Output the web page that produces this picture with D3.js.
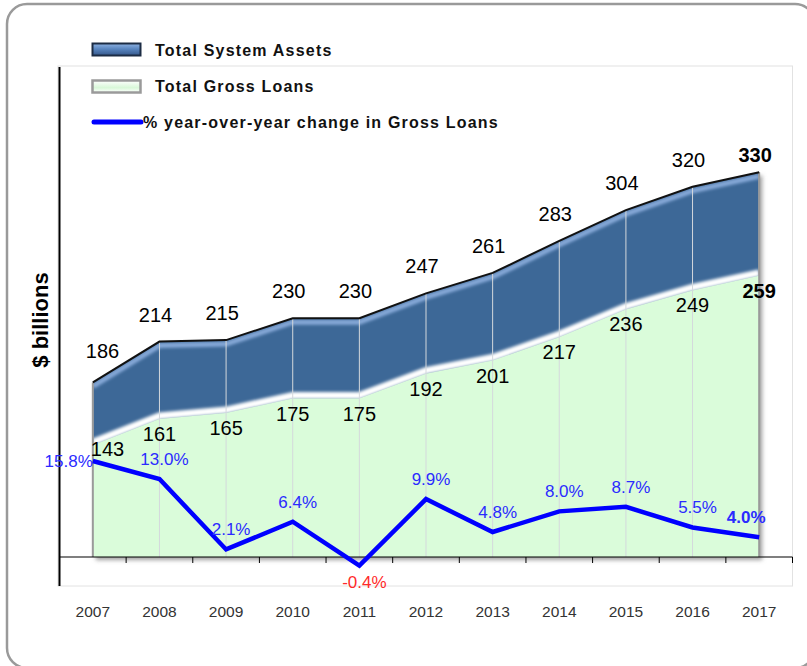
<!DOCTYPE html>
<html>
<head>
<meta charset="utf-8">
<script src="https://cdn.jsdelivr.net/npm/d3@7"></script>
<style>
  body { margin: 0; background: #fff; }
  text { font-family: "Liberation Sans", Arial, sans-serif; }
</style>
</head>
<body>
<div id="chart"></div>
<script>
// values
var years = ["2007", "2008", "2009", "2010", "2011", "2012", "2013", "2014", "2015", "2016", "2017"];
var assets = [186, 214, 215, 230, 230, 247, 261, 283, 304, 320, 330];
var loans = [143, 161, 165, 175, 175, 192, 201, 217, 236, 249, 259];
var loanGrowth = [15.8, 13.0, 2.1, 6.4, -0.4, 9.9, 4.8, 8.0, 8.7, 5.5, 4.0];
var legendLabels = ["Total System Assets", "Total Gross Loans", "% year-over-year change in Gross Loans"];

var W = 807, H = 666;
var plot = { left: 59.5, right: 792.5, top: 66, bottom: 586 },
	axisY = 557;

var svg = d3.select("#chart").append("svg")
	.attr("width", W)
	.attr("height", H);

var defs = svg.append("defs");

var shadow = defs.append("filter").attr("id", "shadow")
	.attr("x", "-10%").attr("y", "-10%").attr("width", "130%").attr("height", "130%");
shadow.append("feDropShadow")
	.attr("dx", 3).attr("dy", 3).attr("stdDeviation", 2)
	.attr("flood-color", "#777").attr("flood-opacity", 0.7);

defs.append("filter").attr("id", "blur")
	.append("feGaussianBlur").attr("stdDeviation", 1.6);

var gBlue = defs.append("linearGradient").attr("id", "gBlue")
	.attr("x1", 0).attr("y1", 0).attr("x2", 0).attr("y2", 1);
gBlue.append("stop").attr("offset", "0%").attr("stop-color", "#8fb3e3");
gBlue.append("stop").attr("offset", "45%").attr("stop-color", "#5a86c0");
gBlue.append("stop").attr("offset", "100%").attr("stop-color", "#34578a");

var gGreen = defs.append("linearGradient").attr("id", "gGreen")
	.attr("x1", 0).attr("y1", 0).attr("x2", 0).attr("y2", 1);
gGreen.append("stop").attr("offset", "0%").attr("stop-color", "#ffffff");
gGreen.append("stop").attr("offset", "60%").attr("stop-color", "#d8f8d8");
gGreen.append("stop").attr("offset", "100%").attr("stop-color", "#ffffff");

// outer rounded frame
svg.append("rect")
	.attr("x", 7).attr("y", 4)
	.attr("width", 808).attr("height", 664)
	.attr("rx", 20)
	.attr("fill", "none")
	.attr("stroke", "#9a9a9a")
	.attr("stroke-width", 2.5);

// plot area box
svg.append("rect")
	.attr("x", plot.left - 1.5).attr("y", plot.top)
	.attr("width", plot.right - plot.left + 1.5).attr("height", plot.bottom - plot.top)
	.attr("fill", "none")
	.attr("stroke", "#e2e2e2");

var x = d3.scaleBand()
	.domain(years)
	.range([plot.left, plot.right]);

var y = d3.scaleLinear()
	.domain([0, 400])
	.range([654, 70]);

var yPct = d3.scaleLinear()
	.domain([0, 15.8])
	.range([563, 461]);

function cx(d, i) { return x(years[i]) + x.bandwidth() / 2; }

var areaAssets = d3.area()
	.x(cx)
	.y0(axisY)
	.y1(function(d) { return y(d); });

var areaLoans = d3.area()
	.x(cx)
	.y0(axisY)
	.y1(function(d) { return y(d); });

var lineOf = function(scale, dy) {
	return d3.line()
		.x(cx)
		.y(function(d) { return scale(d) + dy; });
};

defs.append("clipPath").attr("id", "clipAssets")
	.append("path").attr("d", areaAssets(assets));

// areas
var areas = svg.append("g").attr("class", "areas");

areas.append("path")
	.attr("d", areaAssets(assets))
	.attr("fill", "#3d6797")
	.attr("filter", "url(#shadow)");

var inner = areas.append("g").attr("clip-path", "url(#clipAssets)");

// light band just under the top edge of the assets
inner.append("path")
	.attr("d", lineOf(y, 4)(assets))
	.attr("fill", "none")
	.attr("stroke", "#86a9d8")
	.attr("stroke-width", 5)
	.attr("filter", "url(#blur)");

// white glow above the loans
inner.append("path")
	.attr("d", lineOf(y, -3)(loans))
	.attr("fill", "none")
	.attr("stroke", "#ffffff")
	.attr("stroke-width", 7)
	.attr("filter", "url(#blur)");

inner.append("path")
	.attr("d", areaLoans(loans))
	.attr("fill", "#dafcda");

// drop lines at each year
inner.selectAll("line.drop")
	.data(assets)
	.enter().append("line")
	.attr("class", "drop")
	.attr("x1", cx).attr("x2", cx)
	.attr("y1", function(d) { return y(d); })
	.attr("y2", axisY)
	.attr("stroke", "#d4d8dc")
	.attr("stroke-width", 1);

// side edges of the area
[0, assets.length - 1].forEach(function(i) {
	areas.append("line")
		.attr("x1", cx(null, i)).attr("x2", cx(null, i))
		.attr("y1", y(assets[i])).attr("y2", axisY)
		.attr("stroke", "#9a9a9a")
		.attr("stroke-width", 2);
});

areas.append("path")
	.attr("d", lineOf(y, 0)(assets))
	.attr("fill", "none")
	.attr("stroke", "#111")
	.attr("stroke-width", 2);

// axes
svg.append("line")
	.attr("x1", plot.left).attr("x2", plot.right)
	.attr("y1", axisY).attr("y2", axisY)
	.attr("stroke", "#000").attr("stroke-width", 1.2);

svg.selectAll("line.tick")
	.data(years.concat(["end"]))
	.enter().append("line")
	.attr("class", "tick")
	.attr("x1", function(d, i) { return i < years.length ? x(d) : plot.right; })
	.attr("x2", function(d, i) { return i < years.length ? x(d) : plot.right; })
	.attr("y1", axisY).attr("y2", axisY + 6)
	.attr("stroke", "#000");

svg.append("line")
	.attr("x1", plot.left).attr("x2", plot.left)
	.attr("y1", plot.top + 1).attr("y2", plot.bottom)
	.attr("stroke", "#000").attr("stroke-width", 2);

svg.selectAll("text.year")
	.data(years)
	.enter().append("text")
	.attr("class", "year")
	.attr("x", function(d) { return x(d) + x.bandwidth() / 2; })
	.attr("y", 617)
	.attr("text-anchor", "middle")
	.attr("font-size", 15.5)
	.attr("fill", "#333")
	.text(function(d) { return d; });

svg.append("text")
	.attr("transform", "translate(48,320) rotate(-90)")
	.attr("text-anchor", "middle")
	.attr("font-size", 22)
	.attr("font-weight", "bold")
	.attr("fill", "#000")
	.text("$ billions");

// growth line
svg.append("path")
	.attr("d", lineOf(yPct, 0)(loanGrowth))
	.attr("fill", "none")
	.attr("stroke", "#0000ff")
	.attr("stroke-width", 4.5)
	.attr("stroke-linejoin", "miter");

var last = years.length - 1;

// value labels
svg.selectAll("text.assets")
	.data(assets)
	.enter().append("text")
	.attr("x", function(d, i) { return i === 0 ? cx(d, i) - 7 : cx(d, i) - 4; })
	.attr("y", function(d, i) { return y(d) - (i === last ? 10 : i === 0 ? 24 : 20); })
	.attr("text-anchor", function(d, i) { return i === 0 ? "start" : "middle"; })
	.attr("font-size", 20)
	.attr("font-weight", function(d, i) { return i === last ? "bold" : "normal"; })
	.text(function(d) { return d; });

svg.selectAll("text.loans")
	.data(loans)
	.enter().append("text")
	.attr("x", function(d, i) { return i === 0 ? cx(d, i) - 2 : cx(d, i); })
	.attr("y", function(d, i) { return y(d) + (i === 0 ? 11 : 22); })
	.attr("text-anchor", function(d, i) { return i === 0 ? "start" : "middle"; })
	.attr("font-size", 20)
	.attr("font-weight", function(d, i) { return i === last ? "bold" : "normal"; })
	.text(function(d) { return d; });

svg.selectAll("text.pct")
	.data(loanGrowth)
	.enter().append("text")
	.attr("x", function(d, i) { return i === 0 ? cx(d, i) : i === last ? cx(d, i) - 13 : cx(d, i) + 5; })
	.attr("y", function(d, i) {
		if (i === 0) return yPct(d) + 6;
		return d < 0 ? yPct(d) + 22 : yPct(d) - 14;
	})
	.attr("text-anchor", function(d, i) { return i === 0 ? "end" : "middle"; })
	.attr("font-size", 17)
	.attr("font-weight", function(d, i) { return i === last ? "bold" : "normal"; })
	.attr("fill", function(d) { return d < 0 ? "#ff2a2a" : "#2b2bff"; })
	.text(function(d) { return d.toFixed(1) + "%"; });

// legend
var legend = svg.append("g").attr("class", "legend");

legend.append("rect")
	.attr("x", 92.5).attr("y", 43.5).attr("width", 48).attr("height", 12)
	.attr("fill", "url(#gBlue)")
	.attr("stroke", "#1c2c44").attr("stroke-width", 2);

legend.append("rect")
	.attr("x", 92.5).attr("y", 80.5).attr("width", 48).attr("height", 12)
	.attr("fill", "url(#gGreen)")
	.attr("stroke", "#9a9a9a").attr("stroke-width", 2.5);

legend.append("line")
	.attr("x1", 94).attr("x2", 141)
	.attr("y1", 122).attr("y2", 122)
	.attr("stroke", "#0000ff")
	.attr("stroke-width", 5)
	.attr("stroke-linecap", "round");

legend.selectAll("text")
	.data(legendLabels)
	.enter().append("text")
	.attr("x", function(d, i) { return i === 2 ? 143 : 155; })
	.attr("y", function(d, i) { return [56, 92, 128][i]; })
	.attr("font-size", 16)
	.attr("font-weight", "bold")
	.attr("letter-spacing", 1.2)
	.attr("fill", "#111")
	.text(function(d) { return d; });
</script>
</body>
</html>
